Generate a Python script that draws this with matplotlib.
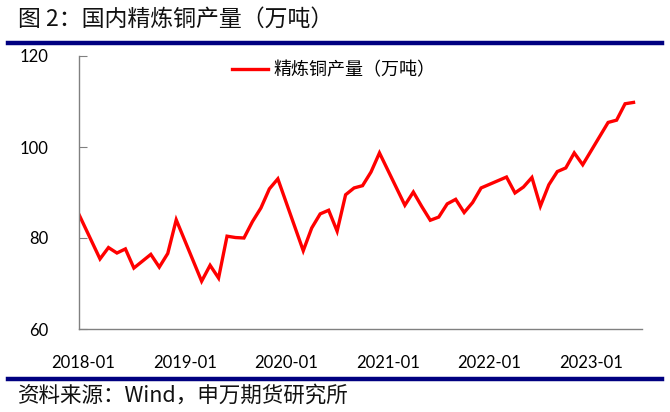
import matplotlib
matplotlib.use("Agg")
import matplotlib.pyplot as plt
from matplotlib.lines import Line2D
import pandas as pd

# ---- data ----
months = ["2017-12",
          "2018-03", "2018-04", "2018-05", "2018-06", "2018-07", "2018-08", "2018-09", "2018-10", "2018-11", "2018-12",
          "2019-03", "2019-04", "2019-05", "2019-06", "2019-07", "2019-08", "2019-09", "2019-10", "2019-11", "2019-12",
          "2020-03", "2020-04", "2020-05", "2020-06", "2020-07", "2020-08", "2020-09", "2020-10", "2020-11", "2020-12",
          "2021-03", "2021-04", "2021-05", "2021-06", "2021-07", "2021-08", "2021-09", "2021-10", "2021-11", "2021-12",
          "2022-03", "2022-04", "2022-05", "2022-06", "2022-07", "2022-08", "2022-09", "2022-10", "2022-11", "2022-12",
          "2023-03", "2023-04", "2023-05", "2023-06"]
output = [87.2,
          75.4, 77.9, 76.7, 77.6, 73.4, 74.9, 76.4, 73.6, 76.6, 84.0,
          70.5, 74.0, 71.2, 80.4, 80.1, 80.0, 83.6, 86.6, 90.8, 93.0,
          77.2, 82.2, 85.3, 86.1, 81.5, 89.5, 91.0, 91.5, 94.5, 98.7,
          87.2, 90.1, 86.9, 83.9, 84.6, 87.5, 88.5, 85.6, 87.8, 91.0,
          93.4, 89.9, 91.2, 93.3, 87.0, 91.7, 94.6, 95.4, 98.7, 96.1,
          105.4, 105.9, 109.5, 109.8]
xtick_labels = ["2018-01", "2019-01", "2020-01", "2021-01", "2022-01", "2023-01"]
yticks = [60, 80, 100, 120]
series_name = "精炼铜产量（万吨）"
title = "图 2：国内精炼铜产量（万吨）"
source = "资料来源：Wind，申万期货研究所"

cjk = ["Noto Sans CJK SC", "DejaVu Sans"]
num_font = "Lato"

base = pd.Period("2018-01", freq="M")
def midx(s):
    p = pd.Period(s, freq="M")
    return (p.year - base.year) * 12 + (p.month - base.month)

x = [midx(m) for m in months]
xt = [midx(m) for m in xtick_labels]

fig = plt.figure(figsize=(6.7, 4.12), dpi=100)
ax = fig.add_axes([79/670, 1 - 329/412, (642-79)/670, (329-56)/412])

ax.plot(x, output, color="#FF0000", lw=2.4, solid_joinstyle="miter", label=series_name)

ax.set_xlim(-0.48, 66.0)
ax.set_ylim(60, 120)
ax.set_yticks(yticks)
ax.set_xticks(xt)
ax.set_xticklabels(xtick_labels, fontfamily=num_font, fontsize=12)
ax.set_yticklabels([str(v) for v in yticks], fontfamily=num_font, fontsize=12)

for s in ["top", "right"]:
    ax.spines[s].set_visible(False)
for s in ["left", "bottom"]:
    ax.spines[s].set_color("#808080")
    ax.spines[s].set_linewidth(1.0)
ax.tick_params(axis="y", direction="in", length=6, color="#808080", pad=22)
ax.tick_params(axis="x", length=0, pad=19)

leg = ax.legend(loc="center", bbox_to_anchor=(0.453, 0.949), frameon=False,
                handlelength=2.0, handletextpad=0.3,
                prop={"family": cjk, "size": 13})

fig.text(18/670, 1 - 19/412, title, fontfamily=cjk, fontsize=16.5, fontweight="medium",
         ha="left", va="center", color="#111111")
fig.add_artist(Line2D([8/670, 662/670], [1 - 43/412, 1 - 43/412], color="#000080", lw=3.2))
fig.add_artist(Line2D([8/670, 662/670], [1 - 379/412, 1 - 379/412], color="#000080", lw=3.2))
fig.text(18/670, 1 - 396/412, source, fontfamily=cjk, fontsize=15.5, fontweight="medium",
         ha="left", va="center", color="#111111")

fig.savefig("out.png", dpi=100)
